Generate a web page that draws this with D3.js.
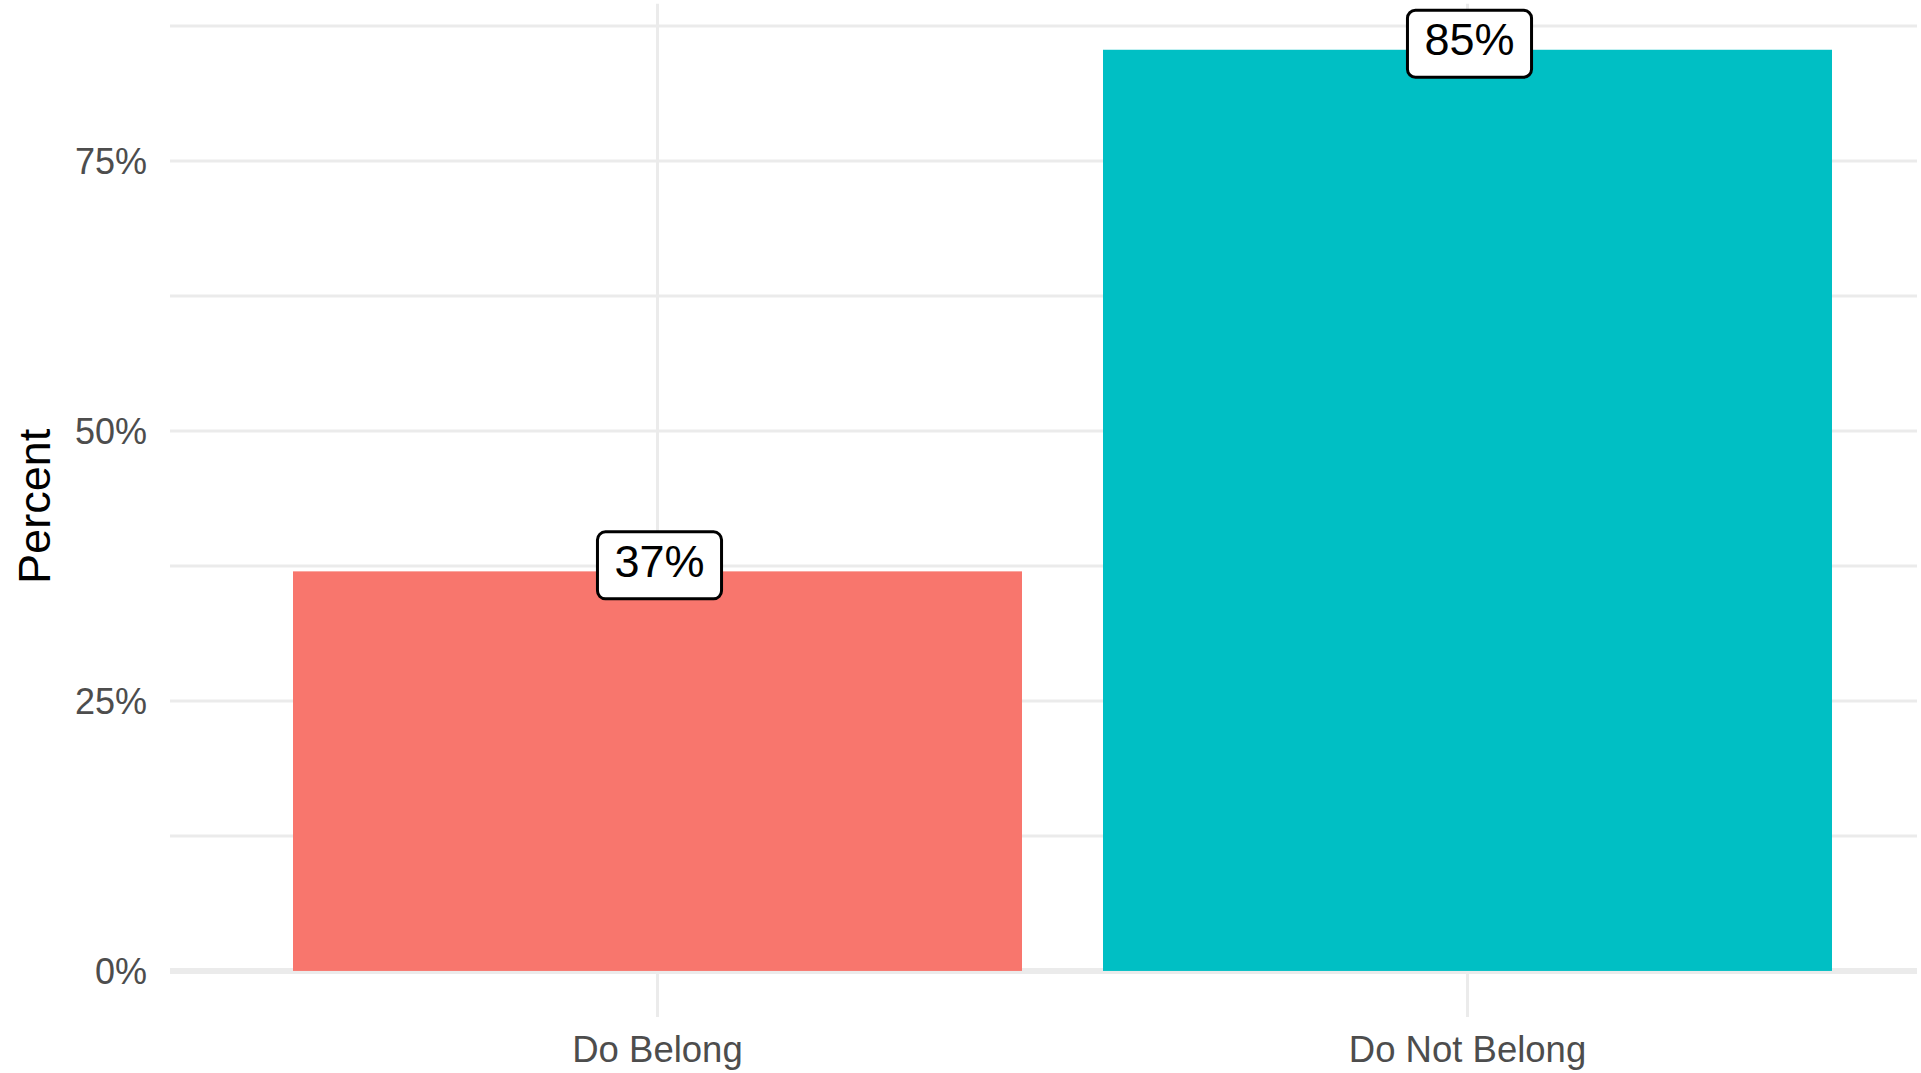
<!DOCTYPE html>
<html>
<head>
<meta charset="utf-8">
<script src="https://cdn.jsdelivr.net/npm/d3@7"></script>
<style>
  html, body { margin: 0; padding: 0; background: #fff; }
  svg { display: block; font-family: "Liberation Sans", Arial, sans-serif; }
</style>
</head>
<body>
<svg id="chart" width="1921" height="1073"></svg>
<script>
// ---- data ----
const categories = ["Do Belong", "Do Not Belong"];
const values = [0.370, 0.853];
const barColors = ["#F8766D", "#00BFC4"];
const yTicks = [0, 0.25, 0.5, 0.75];
const yMinorTicks = [0.125, 0.375, 0.625, 0.875];
const yTickLabels = ["0%", "25%", "50%", "75%"];
const yTitle = "Percent";

// ---- layout ----
const W = 1921, H = 1073;
const panel = { left: 171.5, right: 1953.5, top: 3.7, bottom: 1017 };
const gridRight = 1917;

const svg = d3.select("#chart");

const maxV = d3.max(values);
const expand = maxV * 0.05;
const y = d3.scaleLinear()
  .domain([-expand, maxV + expand])
  .range([panel.bottom, panel.top]);

const x = d3.scaleBand()
  .domain(categories)
  .range([panel.left, panel.right])
  .paddingInner(0.1)
  .paddingOuter(0.15);

const grid = svg.append("g");
// minor horizontal gridlines
grid.selectAll("line.minor").data(yMinorTicks).join("line")
  .attr("x1", 170).attr("x2", gridRight)
  .attr("y1", d => y(d)).attr("y2", d => y(d))
  .attr("stroke", "#EBEBEB").attr("stroke-width", 3);
// major horizontal gridlines
grid.selectAll("line.major").data(yTicks).join("line")
  .attr("x1", 170).attr("x2", gridRight)
  .attr("y1", d => y(d)).attr("y2", d => y(d))
  .attr("stroke", "#EBEBEB").attr("stroke-width", d => d === 0 ? 6 : 3);
// vertical gridlines
grid.selectAll("line.vert").data(categories).join("line")
  .attr("x1", d => x(d) + x.bandwidth() / 2).attr("x2", d => x(d) + x.bandwidth() / 2)
  .attr("y1", panel.top).attr("y2", panel.bottom)
  .attr("stroke", "#EBEBEB").attr("stroke-width", 3);

// bars
svg.append("g").selectAll("rect").data(categories).join("rect")
  .attr("x", d => x(d))
  .attr("width", x.bandwidth())
  .attr("y", (d, i) => y(values[i]))
  .attr("height", (d, i) => y(0) - y(values[i]))
  .attr("fill", (d, i) => barColors[i]);

// y axis labels
svg.append("g").selectAll("text").data(yTicks).join("text")
  .attr("x", 147)
  .attr("y", d => y(d))
  .attr("dy", "0.35em")
  .attr("text-anchor", "end")
  .attr("font-size", 36)
  .attr("fill", "#4D4D4D")
  .text((d, i) => yTickLabels[i]);

// x axis labels
svg.append("g").selectAll("text").data(categories).join("text")
  .attr("x", d => x(d) + x.bandwidth() / 2)
  .attr("y", 1062)
  .attr("text-anchor", "middle")
  .attr("font-size", 36.5)
  .attr("fill", "#4D4D4D")
  .text(d => d);

// y title
svg.append("text")
  .attr("transform", `translate(50,${(panel.top + panel.bottom) / 2 - 4}) rotate(-90)`)
  .attr("text-anchor", "middle")
  .attr("font-size", 45)
  .attr("fill", "#000")
  .text(yTitle);

// value labels (geom_label style)
const fmt = d3.format(".0%");
const labels = svg.append("g").selectAll("g").data(categories).join("g")
  .attr("transform", (d, i) => `translate(${x(d) + x.bandwidth() / 2 + 2},${y(values[i]) + 5.5})`);
labels.each(function (d, i) {
  const g = d3.select(this);
  const rect = g.append("rect");
  const t = g.append("text")
    .attr("text-anchor", "middle")
    .attr("font-size", 45)
    .attr("fill", "#000")
    .text(fmt(values[i]));
  const w = t.node().getComputedTextLength() + 34;
  rect.attr("x", -w / 2).attr("y", -45).attr("width", w).attr("height", 67)
    .attr("rx", 8).attr("ry", 8)
    .attr("fill", "#fff").attr("stroke", "#000").attr("stroke-width", 3);
});
</script>
</body>
</html>
